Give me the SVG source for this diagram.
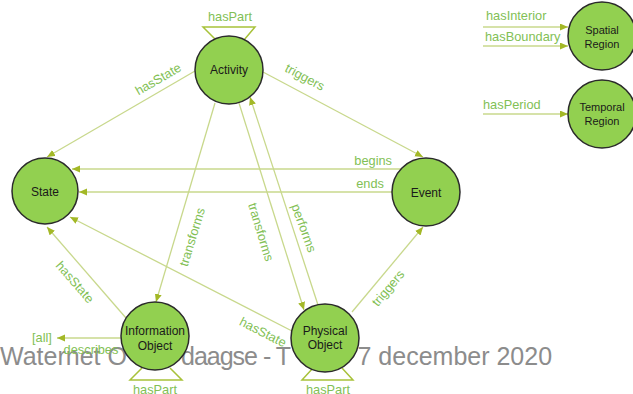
<svg xmlns="http://www.w3.org/2000/svg" width="633" height="394" viewBox="0 0 633 394">
  <style>
    .edge { stroke: #c8d88c; stroke-width: 1.3; fill: none; }
    .arr { marker-end: url(#head); }
    .part { stroke: #a8c23a; stroke-width: 1.5; fill: none; stroke-linejoin: miter; }
    .node circle { fill: #92d050; stroke: #2b2b2b; stroke-width: 1.5; }
    .node text { font-family: "Liberation Sans", Arial, sans-serif; font-size: 12px; fill: #1a1a1a; text-anchor: middle; }
    .node.small text { font-size: 11px; }
    .lbl { font-family: "Liberation Sans", Arial, sans-serif; font-size: 12.8px; fill: #82bf55; }
    .mid { text-anchor: middle; }
    .end { text-anchor: end; }
    .footer { font-family: "Liberation Sans", Arial, sans-serif; font-size: 25px; fill: #8c8c8c; }
  </style>
  <defs>
    <marker id="head" markerUnits="userSpaceOnUse" markerWidth="9" markerHeight="8" refX="8" refY="3.5" orient="auto">
      <path d="M0,0 L8,3.5 L0,7 z" fill="#a3b826"/>
    </marker>
  </defs>

  <rect width="633" height="394" fill="#ffffff"/>

  <!-- footer caption, partly covered by the nodes -->
  <text class="footer" y="365"><tspan x="0">Waternet O</tspan><tspan x="181" letter-spacing="-1">daagse - T</tspan><tspan x="357.5">7 december 2020</tspan></text>

  <g id="connectors">
    <!-- Activity relations -->
    <line class="edge arr" x1="195" y1="71" x2="47" y2="157"/>
    <line class="edge arr" x1="263" y1="72" x2="423" y2="157"/>
    <line class="edge arr" x1="215" y1="103" x2="156" y2="302"/>
    <line class="edge arr" x1="239" y1="103" x2="304" y2="310"/>
    <line class="edge arr" x1="318" y1="305" x2="250" y2="97"/>
    <!-- Event to State -->
    <line class="edge arr" x1="402" y1="169" x2="72" y2="169"/>
    <line class="edge arr" x1="392" y1="192" x2="79" y2="192"/>
    <!-- object relations -->
    <line class="edge arr" x1="126" y1="318" x2="47" y2="227"/>
    <line class="edge arr" x1="292" y1="331" x2="70" y2="217"/>
    <line class="edge arr" x1="352" y1="312" x2="423" y2="227"/>
    <line class="edge arr" x1="121" y1="338" x2="57" y2="338"/>
    <!-- region properties -->
    <line class="edge arr" x1="483" y1="27" x2="568" y2="27"/>
    <line class="edge arr" x1="483" y1="46" x2="568" y2="46"/>
    <line class="edge arr" x1="483" y1="114" x2="568" y2="114"/>
    <!-- hasPart loops -->
    <polyline class="part" points="216,40 203,27 255,27 244,40"/>
    <polyline class="part" points="142,368 130,380 182,380 170,368"/>
    <polyline class="part" points="313,368 302,380 353,380 342,368"/>

    <!-- connector labels -->
    <text class="lbl mid" transform="translate(158,79) rotate(-30)" dy="0.35em">hasState</text>
    <text class="lbl mid" transform="translate(305,77) rotate(28)" dy="0.35em">triggers</text>
    <text class="lbl end" x="392" y="165">begins</text>
    <text class="lbl end" x="384" y="188">ends</text>
    <text class="lbl mid" transform="translate(192,237) rotate(-73)" dy="0.35em">transforms</text>
    <text class="lbl mid" transform="translate(261,232) rotate(73)" dy="0.35em">transforms</text>
    <text class="lbl mid" transform="translate(304,228) rotate(70)" dy="0.35em">performs</text>
    <text class="lbl mid" transform="translate(75,282) rotate(49)" dy="0.35em">hasState</text>
    <text class="lbl mid" transform="translate(263,332) rotate(27)" dy="0.35em">hasState</text>
    <text class="lbl mid" transform="translate(388,288) rotate(-50)" dy="0.35em">triggers</text>
    <text class="lbl mid" x="91" y="354">describes</text>
    <text class="lbl" x="32" y="342">[all]</text>
    <text class="lbl" x="486" y="20">hasInterior</text>
    <text class="lbl" x="485" y="41">hasBoundary</text>
    <text class="lbl" x="483" y="109">hasPeriod</text>
    <text class="lbl mid" x="230" y="21">hasPart</text>
    <text class="lbl mid" x="155" y="394">hasPart</text>
    <text class="lbl mid" x="328" y="394">hasPart</text>
  </g>

  <g id="activity" class="node">
    <circle cx="229" cy="70" r="34"/>
    <text x="229" y="74">Activity</text>
  </g>
  <g id="state" class="node">
    <circle cx="45" cy="191" r="33"/>
    <text x="45" y="196">State</text>
  </g>
  <g id="event" class="node">
    <circle cx="426" cy="192" r="34"/>
    <text x="426" y="197">Event</text>
  </g>
  <g id="information-object" class="node">
    <circle cx="155" cy="336" r="34"/>
    <text x="155" y="335">Information</text>
    <text x="155" y="350">Object</text>
  </g>
  <g id="physical-object" class="node">
    <circle cx="325" cy="338" r="34"/>
    <text x="325" y="335">Physical</text>
    <text x="325" y="349">Object</text>
  </g>
  <g id="spatial-region" class="node small">
    <circle cx="602" cy="36" r="34"/>
    <text x="602" y="34">Spatial</text>
    <text x="602" y="48">Region</text>
  </g>
  <g id="temporal-region" class="node small">
    <circle cx="602" cy="114" r="34"/>
    <text x="602" y="111">Temporal</text>
    <text x="602" y="125">Region</text>
  </g>
</svg>
